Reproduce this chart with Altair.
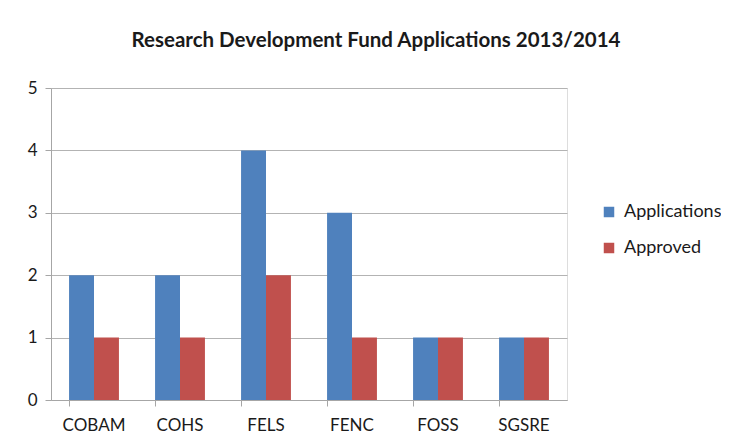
import altair as alt
import pandas as pd

categories = ["COBAM", "COHS", "FELS", "FENC", "FOSS", "SGSRE"]
applications = [2, 2, 4, 3, 1, 1]
approved = [1, 1, 2, 1, 1, 1]
series = ["Applications", "Approved"]
colors = ["#4F81BD", "#C0504D"]

rows = []
for c, a, b in zip(categories, applications, approved):
    rows.append({"Faculty": c, "Series": series[0], "Value": a})
    rows.append({"Faculty": c, "Series": series[1], "Value": b})
df = pd.DataFrame(rows)

FONT = "Lato"

chart = alt.Chart(df).mark_bar().encode(
    x=alt.X("Faculty:N", sort=categories, title=None,
            scale=alt.Scale(paddingInner=0.42, paddingOuter=0.21),
            axis=alt.Axis(labelAngle=0, bandPosition=0, grid=False, ticks=True,
                          tickSize=6, tickColor="#a6a6a6", domainColor="#a6a6a6",
                          labelFontSize=17, labelColor="#1a1a1a", labelPadding=11,
                          labelFont=FONT)),
    xOffset=alt.XOffset("Series:N", sort=series),
    y=alt.Y("Value:Q", title=None,
            scale=alt.Scale(domain=[0, 5], nice=False),
            axis=alt.Axis(values=[0, 1, 2, 3, 4, 5], format="d", grid=True,
                          gridColor="#b3b3b3", domainColor="#a6a6a6",
                          tickColor="#a6a6a6", tickSize=6, labelFontSize=17,
                          labelColor="#1a1a1a", labelPadding=8, labelFont=FONT)),
    color=alt.Color("Series:N", sort=series,
                    scale=alt.Scale(domain=series, range=colors),
                    legend=alt.Legend(title=None, orient="none", legendX=549,
                                      legendY=115, symbolType="square",
                                      symbolSize=110, symbolStrokeWidth=0,
                                      labelFontSize=18, labelFont=FONT,
                                      labelColor="#1a1a1a", rowPadding=18,
                                      labelOffset=6)),
).properties(
    width=516,
    height=312,
    autosize=alt.AutoSizeParams(type="none"),
    padding={"left": 43, "top": 80, "right": 154, "bottom": 46},
    title=alt.TitleParams("Research Development Fund Applications 2013/2014",
                          fontSize=20.5, font=FONT, fontWeight="bold",
                          color="#1a1a1a", anchor="middle", dx=67, offset=28),
).configure_view(stroke=None).configure(background="white")

chart.save("out.html", embed_options={"renderer": "svg", "actions": False})
